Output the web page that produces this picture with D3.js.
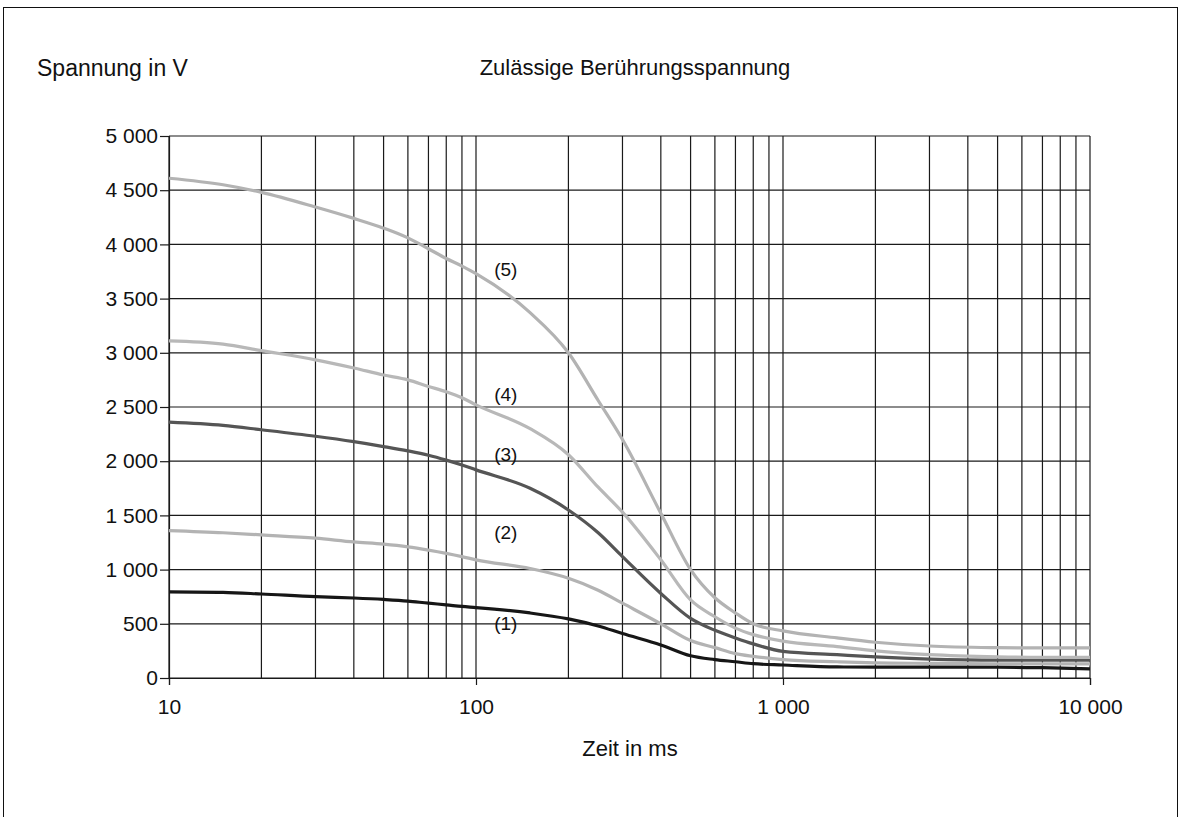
<!DOCTYPE html>
<html>
<head>
<meta charset="utf-8">
<style>
    body { margin:0; background:#ffffff; }
    svg { display:block; font-family:"Liberation Sans", Arial, sans-serif; }
    .tick text { font-size:21px; fill:#111; }
</style>
</head>
<body>
<svg id="plot"></svg>
<script src="https://d3js.org/d3.v7.min.js"></script>
<script>

// time in ms (x)
var times = [10,15,20,30,40,50,60,70,80,90,100,150,200,250,300,400,500,600,700,800,1000,1500,2000,3000,5000,7000,10000];

// voltage in V for each curve, same order as times
var curve1 = [795,790,775,750,738,725,710,690,675,660,650,600,545,480,410,305,205,170,150,132,120,102,100,100,100,95,85];
var curve2 = [1360,1340,1320,1290,1255,1235,1210,1180,1150,1120,1090,1010,920,810,690,500,345,280,225,200,170,150,140,135,130,130,130];
var curve3 = [2360,2330,2290,2230,2180,2135,2095,2055,2010,1965,1920,1750,1550,1340,1120,780,550,440,370,315,245,215,195,175,165,165,165];
var curve4 = [3110,3080,3020,2935,2860,2795,2750,2690,2640,2585,2520,2300,2060,1760,1530,1090,720,565,460,400,340,290,250,215,195,190,190];
var curve5 = [4610,4550,4480,4345,4240,4150,4060,3960,3870,3800,3730,3370,3000,2560,2200,1520,1000,740,600,500,435,370,330,295,280,277,277];

var curveNames = ["(1)","(2)","(3)","(4)","(5)"];
var curveColors = ["#161616","#b3b3b3","#555555","#b8b8b8","#b3b3b3"];
var labelVolts = [500,1340,2060,2620,3770];
var labelTime = 125;

var xTickLabels = [10,100,1000,10000];
var yTickValues = [0,500,1000,1500,2000,2500,3000,3500,4000,4500,5000];

var screen = {width:1181, height:817};
var margins = {top:136, bottom:139, left:169, right:91};
var graph = {
    width:screen.width-margins.left-margins.right,
    height:screen.height-margins.top-margins.bottom
};

var fmt = function(v)
{
    return d3.format(",")(v).replace(/,/g," ");
}

var svg = d3.select("#plot")
    .attr("width",screen.width)
    .attr("height",screen.height);

// outer frame (bottom edge runs off the picture)
svg.append("rect")
    .attr("x",3.5)
    .attr("y",7.5)
    .attr("width",1174)
    .attr("height",830)
    .attr("fill","none")
    .attr("stroke","#111")
    .attr("stroke-width",1);

var xScale = d3.scaleLog()
    .domain([10,10000])
    .range([0,graph.width]);

var yScale = d3.scaleLinear()
    .domain([0,5000])
    .range([graph.height,0]);

var g = svg.append("g")
    .attr("transform","translate("+margins.left+","+margins.top+")");

// grid
g.append("g")
    .selectAll("line")
    .data(xScale.ticks())
    .enter()
    .append("line")
    .attr("x1",function(d){return xScale(d);})
    .attr("x2",function(d){return xScale(d);})
    .attr("y1",0)
    .attr("y2",graph.height)
    .attr("stroke","#1a1a1a")
    .attr("stroke-width",1.2);

g.append("g")
    .selectAll("line")
    .data(yTickValues)
    .enter()
    .append("line")
    .attr("x1",0)
    .attr("x2",graph.width)
    .attr("y1",function(d){return yScale(d);})
    .attr("y2",function(d){return yScale(d);})
    .attr("stroke","#1a1a1a")
    .attr("stroke-width",1.2);

// axes
var xAxis = d3.axisBottom(xScale)
    .tickValues(xTickLabels)
    .tickSize(7)
    .tickPadding(14)
    .tickFormat(fmt);

var yAxis = d3.axisLeft(yScale)
    .tickValues(yTickValues)
    .tickSize(9)
    .tickPadding(2)
    .tickFormat(fmt);

g.append("g")
    .attr("transform","translate(0,"+graph.height+")")
    .call(xAxis)
    .call(function(a){a.select(".domain").attr("stroke","#1a1a1a").attr("stroke-width",1.2);})
    .call(function(a){a.selectAll(".tick line").attr("stroke","#1a1a1a").attr("stroke-width",1.2);});

g.append("g")
    .call(yAxis)
    .call(function(a){a.select(".domain").attr("stroke","#1a1a1a").attr("stroke-width",1.2);})
    .call(function(a){a.selectAll(".tick line").attr("stroke","#1a1a1a").attr("stroke-width",1.2);});

// curves
var curves = [curve1,curve2,curve3,curve4,curve5];

var line = d3.line()
    .x(function(d){return xScale(d[0]);})
    .y(function(d){return yScale(d[1]);})
    .curve(d3.curveMonotoneX);

g.append("g")
    .selectAll("path")
    .data(curves)
    .enter()
    .append("path")
    .attr("d",function(c)
    {
        return line(times.map(function(t,i){return [t,c[i]];}));
    })
    .attr("fill","none")
    .attr("stroke",function(c,i){return curveColors[i];})
    .attr("stroke-width",3.2)
    .attr("stroke-linejoin","round");

// curve labels
g.append("g")
    .selectAll("text")
    .data(curveNames)
    .enter()
    .append("text")
    .text(function(d){return d;})
    .attr("x",xScale(labelTime))
    .attr("y",function(d,i){return yScale(labelVolts[i]);})
    .attr("dy","0.35em")
    .attr("text-anchor","middle")
    .attr("font-size",19)
    .attr("fill","#111");

// titles
var labels = svg.append("g").attr("fill","#111");

labels.append("text")
    .text("Zulässige Berührungsspannung")
    .attr("x",635)
    .attr("y",75)
    .attr("text-anchor","middle")
    .attr("font-size",22);

labels.append("text")
    .text("Spannung in V")
    .attr("x",37)
    .attr("y",76)
    .attr("font-size",23);

labels.append("text")
    .text("Zeit in ms")
    .attr("x",630)
    .attr("y",756)
    .attr("text-anchor","middle")
    .attr("font-size",22);

</script>
</body>
</html>
